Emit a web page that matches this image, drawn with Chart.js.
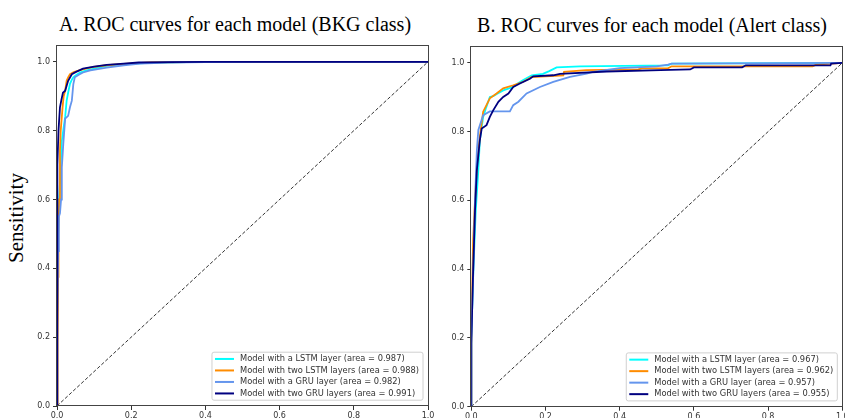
<!DOCTYPE html>
<html lang="en">
	<head>
		<meta charset="UTF-8" />
		<script src="https://cdn.jsdelivr.net/npm/chart.js@4.4.0/dist/chart.umd.min.js"></script>
		<title>ROC curves</title>
		<style>
			body { margin: 0; width: 845px; height: 418px; overflow: hidden; position: relative; background: #fff; }
			.title { position: absolute; font: 20px "Liberation Serif", serif; line-height: 24px; color: #000; white-space: nowrap; text-align: center; width: 440px; }
			.ylabel { position: absolute; font: 21px "Liberation Serif", serif; line-height: 24px; width: 120px; height: 24px; text-align: center; transform: rotate(-90deg); }
			.box { position: absolute; top: 0; height: 418px; }
		</style>
	</head>
	<body>
		<div class="title" style="left: 15px; top: 11.9px;">A. ROC curves for each model (BKG class)</div>
		<div class="title" style="left: 432px; top: 12.9px;">B. ROC curves for each model (Alert class)</div>
		<div class="ylabel" style="left: -43.6px; top: 206px;">Sensitivity</div>
		<div class="box" style="left: 0; width: 450px;"><canvas id="bkg" width="450" height="418"></canvas></div>
		<div class="box" style="left: 430px; width: 430px;"><canvas id="alert" width="430" height="418"></canvas></div>
		<script>
			const modelNames = ['Model with a LSTM layer', 'Model with two LSTM layers', 'Model with a GRU layer', 'Model with two GRU layers'];
			const modelColors = ['#00ffff', '#ff8c00', '#6495ed', '#000080'];
			const bkgAreas = ['0.987', '0.988', '0.982', '0.991'];
			const alertAreas = ['0.967', '0.962', '0.957', '0.955'];
			const tickValues = [0, 0.2, 0.4, 0.6, 0.8, 1.0];
			const chanceLine = [0, 1];

			// BKG class
			const bkgLstmFpr = [0, 0, 0.003, 0.006, 0.01, 0.013, 0.018, 0.022, 0.026, 0.03, 0.035, 0.04, 0.044, 0.05, 0.062, 0.08, 0.1, 0.134, 0.18, 0.25, 0.35, 0.5, 0.7, 1.0];
			const bkgLstmTpr = [0, 0.3, 0.5, 0.6, 0.7, 0.77, 0.81, 0.84, 0.887, 0.91, 0.936, 0.948, 0.955, 0.96, 0.969, 0.975, 0.98, 0.988, 0.993, 0.997, 0.999, 1.0, 1.0, 1.0];
			const bkgLstm2Fpr = [0, 0.001, 0.002, 0.003, 0.004, 0.006, 0.008, 0.01, 0.015, 0.018, 0.022, 0.026, 0.03, 0.035, 0.045, 0.06, 0.08, 0.1, 0.134, 0.18, 0.25, 0.35, 0.5, 1.0];
			const bkgLstm2Tpr = [0, 0.085, 0.2, 0.375, 0.5, 0.6, 0.742, 0.8, 0.868, 0.9, 0.916, 0.945, 0.955, 0.964, 0.97, 0.975, 0.981, 0.985, 0.99, 0.994, 0.998, 0.999, 1.0, 1.0];
			const bkgGruFpr = [0, 0, 0.003, 0.005, 0.008, 0.011, 0.013, 0.017, 0.022, 0.03, 0.035, 0.04, 0.044, 0.048, 0.06, 0.07, 0.09, 0.11, 0.134, 0.18, 0.224, 0.3, 0.4, 0.55, 1.0];
			const bkgGruTpr = [0, 0.25, 0.45, 0.55, 0.56, 0.6, 0.694, 0.762, 0.835, 0.843, 0.868, 0.887, 0.935, 0.955, 0.963, 0.969, 0.975, 0.979, 0.983, 0.99, 0.995, 0.998, 0.999, 1.0, 1.0];
			const bkgGru2Fpr = [0, 0, 0.001, 0.002, 0.004, 0.008, 0.012, 0.016, 0.022, 0.03, 0.04, 0.05, 0.07, 0.1, 0.134, 0.18, 0.22, 0.3, 0.4, 1.0];
			const bkgGru2Tpr = [0, 0.45, 0.55, 0.7, 0.8, 0.868, 0.89, 0.91, 0.916, 0.945, 0.964, 0.97, 0.98, 0.986, 0.991, 0.995, 0.998, 0.999, 1.0, 1.0];

			// Alert class
			const alertLstmFpr = [0, 0, 0.005, 0.012, 0.019, 0.023, 0.032, 0.04, 0.05, 0.059, 0.07, 0.086, 0.113, 0.125, 0.14, 0.163, 0.193, 0.21, 0.23, 0.293, 0.53, 0.54, 1.0];
			const alertLstmTpr = [0, 0.2, 0.38, 0.57, 0.688, 0.775, 0.843, 0.87, 0.901, 0.903, 0.91, 0.92, 0.93, 0.94, 0.95, 0.964, 0.968, 0.976, 0.987, 0.99, 0.993, 0.998, 1.0];
			const alertLstm2Fpr = [0, 0, 0.005, 0.01, 0.015, 0.023, 0.032, 0.05, 0.068, 0.086, 0.113, 0.14, 0.163, 0.248, 0.25, 0.31, 0.45, 0.46, 0.53, 0.54, 0.92, 0.93, 1.0];
			const alertLstm2Tpr = [0, 0.25, 0.485, 0.6, 0.7, 0.785, 0.858, 0.897, 0.911, 0.926, 0.935, 0.945, 0.959, 0.964, 0.974, 0.979, 0.981, 0.984, 0.984, 0.99, 0.99, 0.995, 1.0];
			const alertGruFpr = [0, 0, 0.005, 0.01, 0.015, 0.019, 0.032, 0.05, 0.104, 0.113, 0.127, 0.149, 0.185, 0.221, 0.266, 0.311, 0.328, 0.4, 0.5, 0.53, 0.54, 1.0];
			const alertGruTpr = [0, 0.2, 0.378, 0.6, 0.746, 0.805, 0.848, 0.859, 0.859, 0.877, 0.887, 0.911, 0.93, 0.945, 0.959, 0.969, 0.974, 0.985, 0.99, 0.995, 0.998, 1.0];
			const alertGru2Fpr = [0, 0, 0.004, 0.01, 0.015, 0.023, 0.028, 0.041, 0.05, 0.059, 0.073, 0.086, 0.1, 0.113, 0.131, 0.158, 0.167, 0.221, 0.239, 0.365, 0.51, 0.59, 0.6, 0.73, 0.74, 0.968, 0.97, 1.0];
			const alertGru2Tpr = [0, 0.184, 0.36, 0.57, 0.688, 0.775, 0.809, 0.819, 0.843, 0.862, 0.887, 0.901, 0.911, 0.93, 0.94, 0.954, 0.961, 0.964, 0.968, 0.975, 0.979, 0.981, 0.987, 0.987, 0.993, 0.993, 0.998, 1.0];

			const pts = (xs, ys) => xs.map((x, i) => ({ x, y: ys[i] }));

			// frame + legend in the lower right corner of the plot area
			const frameLegend = {
				id: 'frameLegend',
				afterDatasetsDraw(chart) {
					const { ctx, chartArea: a } = chart;
					ctx.save();
					ctx.strokeStyle = '#444';
					ctx.lineWidth = 1;
					const l = Math.round(a.left) - 0.5, t = Math.round(a.top) + 0.5;
					const r = Math.round(a.right) + 0.5, b = Math.round(a.bottom) - 0.5;
					ctx.strokeRect(l, t, r - l, b - t);

					ctx.font = '8.3px "DejaVu Sans"';
					const items = chart.data.datasets.filter(d => d.label);
					const maxW = Math.max(...items.map(d => ctx.measureText(d.label).width));
					const rowH = 11.5;
					const w = 3 + 19 + 6 + maxW + 4;
					const h = items.length * rowH + 2;
					const x = a.right - 5 - w, y = a.bottom - 5.8 - h;
					ctx.beginPath();
					ctx.roundRect(x, y, w, h, 2);
					ctx.fillStyle = 'rgba(255,255,255,0.85)';
					ctx.fill();
					ctx.strokeStyle = '#d0d0d0';
					ctx.stroke();
					ctx.textBaseline = 'middle';
					items.forEach((d, i) => {
						const cy = y + 1 + rowH / 2 + i * rowH;
						ctx.beginPath();
						ctx.moveTo(x + 3, cy);
						ctx.lineTo(x + 22, cy);
						ctx.strokeStyle = d.borderColor;
						ctx.lineWidth = 2;
						ctx.stroke();
						ctx.fillStyle = '#333';
						ctx.fillText(d.label, x + 28, cy);
					});
					ctx.restore();
				}
			};

			const makeChart = (id, curves, areas, box) => {
				const datasets = curves.map((c, i) => ({
					label: `${modelNames[i]} (area = ${areas[i]})`,
					data: pts(c[0], c[1]),
					borderColor: modelColors[i],
					borderWidth: 1.8,
					order: 4 - i,
				}));
				datasets.push({
					label: '',
					data: pts(chanceLine, chanceLine),
					borderColor: '#333',
					borderWidth: 1,
					borderDash: [3.5, 2],
					order: 5,
				});

				const tickFont = { family: 'DejaVu Sans', size: 8 };
				return new Chart(document.getElementById(id), {
					type: 'scatter',
					data: { datasets },
					options: {
						responsive: false,
						animation: false,
						showLine: true,
						elements: { point: { radius: 0 }, line: { tension: 0 } },
						layout: { padding: { left: 0, top: box.top, right: box.right, bottom: 0 } },
						plugins: { legend: { display: false }, tooltip: { enabled: false } },
						scales: {
							x: {
								type: 'linear', min: 0, max: 1,
								afterFit: s => { s.height = box.xh; },
								afterBuildTicks: s => { s.ticks = tickValues.map(v => ({ value: v })); },
								ticks: { font: tickFont, color: '#333', padding: 1, maxRotation: 0, callback: v => v.toFixed(1) },
								grid: { drawOnChartArea: false, tickLength: 4, color: '#333' },
								border: { display: false },
							},
							y: {
								type: 'linear', min: 0, max: 1.05,
								afterFit: s => { s.width = box.yw; },
								afterBuildTicks: s => { s.ticks = tickValues.map(v => ({ value: v })); },
								ticks: { font: tickFont, color: '#333', padding: 3, callback: v => v.toFixed(1) },
								grid: { drawOnChartArea: false, tickLength: 4, color: '#333' },
								border: { display: false },
							},
						},
					},
					plugins: [frameLegend],
				});
			};

			makeChart('bkg', [
				[bkgLstmFpr, bkgLstmTpr],
				[bkgLstm2Fpr, bkgLstm2Tpr],
				[bkgGruFpr, bkgGruTpr],
				[bkgGru2Fpr, bkgGru2Tpr],
			], bkgAreas, { top: 44.6, right: 22, yw: 57, xh: 12 });

			makeChart('alert', [
				[alertLstmFpr, alertLstmTpr],
				[alertLstm2Fpr, alertLstm2Tpr],
				[alertGruFpr, alertGruTpr],
				[alertGru2Fpr, alertGru2Tpr],
			], alertAreas, { top: 45.7, right: 17.7, yw: 41.3, xh: 11.3 });
		</script>
	</body>
</html>
